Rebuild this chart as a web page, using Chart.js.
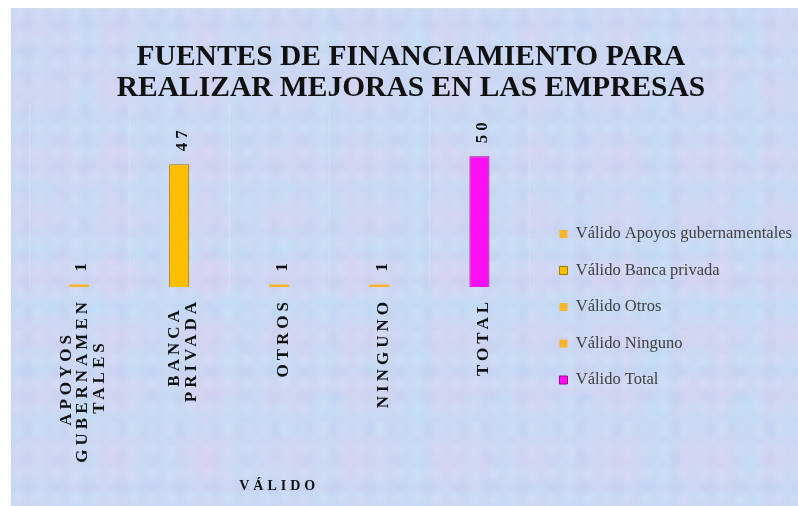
<!DOCTYPE html>
<html lang="es">
<head>
<meta charset="utf-8">
<title>Fuentes de financiamiento</title>
<script src="https://cdn.jsdelivr.net/npm/chart.js@4.4.1/dist/chart.umd.min.js"></script>
<style>
    html, body { margin: 0; padding: 0; background: #fff; }
    #frame {
        position: absolute;
        left: 11px;
        top: 8px;
        width: 787px;
        height: 498px;
        background-color: #c7d8f3;
        background-image:
            radial-gradient(ellipse at 30% 40%, rgba(232, 202, 236, 0.35), rgba(232, 202, 236, 0) 60%),
            radial-gradient(ellipse at 70% 60%, rgba(186, 228, 247, 0.35), rgba(186, 228, 247, 0) 55%),
            radial-gradient(ellipse at 50% 50%, rgba(176, 190, 236, 0.2), rgba(176, 190, 236, 0) 60%),
            radial-gradient(ellipse at 40% 30%, rgba(226, 234, 252, 0.3), rgba(226, 234, 252, 0) 50%),
            radial-gradient(ellipse at 60% 70%, rgba(230, 205, 238, 0.25), rgba(230, 205, 238, 0) 55%);
        background-size: 83px 61px, 47px 53px, 31px 29px, 19px 23px, 127px 97px;
    }
</style>
</head>
<body>
<div id="frame"><canvas id="chart"></canvas></div>
<script>
document.addEventListener('DOMContentLoaded', () => {
    // Data
    const categories = [['APOYOS', 'GUBERNAMEN', 'TALES'], ['BANCA', 'PRIVADA'], 'OTROS', 'NINGUNO', 'TOTAL'];
    const seriesNames = ['Válido Apoyos gubernamentales', 'Válido Banca privada', 'Válido Otros', 'Válido Ninguno', 'Válido Total'];
    const values = [1, 47, 1, 1, 50];

    const barColors = ['#F6B52A', '#FDBE00', '#F6B52A', '#F6B52A', '#FF10F0'];
    const edgeColors = ['#F6B52A', '#A07C00', '#F6B52A', '#F6B52A', '#A0009A'];
    const edgeWidths = [0, 1, 0, 0, 1];

    const spaced = '4px';
    const tickFont = 'bold 17px "Liberation Serif"';
    const linePitch = 16.5;
    const maxLines = 3;

    // Chart.js right-aligns rotated labels and starts multi-line labels at the tick,
    // so centre the lines of each label: pad short lines, use half-pitch rows.
    const measure = document.createElement('canvas').getContext('2d');
    measure.font = tickFont;
    measure.letterSpacing = spaced;
    const spaceW = measure.measureText(' ').width;

    function tickLines(label) {
        const lines = Array.isArray(label) ? label : [label];
        const widths = lines.map((l) => measure.measureText(l).width);
        const widest = Math.max(...widths);
        const out = [];
        for (let k = 0; k < maxLines - lines.length; k++) out.push('');
        lines.forEach((l, k) => {
            const pad = Math.round((widest - widths[k]) / 2 / spaceW);
            if (k > 0) out.push('');
            out.push(l + ' '.repeat(pad));
        });
        return out;
    }

    // one series per category, like the original sheet
    const datasets = seriesNames.map((name, i) => ({
        label: name,
        data: values.map((v, j) => (j === i ? v : null)),
        backgroundColor: barColors[i],
        borderColor: edgeColors[i],
        borderWidth: edgeWidths[i]
    }));

    // value labels + letter spacing for the category axis
    const labelPlugin = {
        id: 'valueLabels',
        beforeDraw(chart) {
            chart.ctx.letterSpacing = '0px';
        },
        afterDatasetsDraw(chart) {
            const ctx = chart.ctx;
            ctx.save();
            ctx.letterSpacing = spaced;
            ctx.font = tickFont;
            ctx.fillStyle = '#111';
            ctx.textAlign = 'left';
            ctx.textBaseline = 'middle';
            chart.data.datasets.forEach((ds, i) => {
                const meta = chart.getDatasetMeta(i);
                meta.data.forEach((bar, j) => {
                    if (ds.data[j] === null) return;
                    ctx.save();
                    ctx.translate(bar.x + 3, bar.y - 13);
                    ctx.rotate(-Math.PI / 2);
                    ctx.fillText(String(ds.data[j]), 0, 0);
                    ctx.restore();
                });
            });
            ctx.restore();
            // x grid/title and tick labels are drawn after this (z: 1)
            ctx.letterSpacing = spaced;
        },
        afterDraw(chart) {
            chart.ctx.letterSpacing = '0px';
        }
    };

    // empty spacer axis, only takes room
    const spacer = (width, position) => ({
        axis: 'y',
        position: position,
        display: true,
        afterFit: (scale) => { scale.width = width; },
        grid: { display: false },
        border: { display: false },
        ticks: { display: false }
    });

    const ctx = document.getElementById('chart').getContext('2d');

    new Chart(ctx, {
        type: 'bar',
        data: {
            labels: categories.map(tickLines),
            datasets: datasets
        },
        options: {
            responsive: true,
            maintainAspectRatio: false,
            animation: false,
            skipNull: true,
            categoryPercentage: 0.8,
            barPercentage: 0.25,
            layout: {
                padding: { left: 9, right: -4, top: 0, bottom: 0 }
            },
            scales: {
                x: {
                    afterFit: (scale) => { scale.height = 219; },
                    grid: {
                        z: 1,
                        color: 'rgba(222, 228, 240, 0.55)',
                        drawTicks: false
                    },
                    border: {
                        color: 'rgba(232, 226, 220, 0.6)'
                    },
                    ticks: {
                        z: 1,
                        autoSkip: false,
                        minRotation: 90,
                        maxRotation: 90,
                        padding: 11,
                        labelOffset: -linePitch + 4,
                        color: '#111',
                        font: { family: '"Liberation Serif"', size: 17, weight: 'bold', lineHeight: linePitch / 2 / 17 }
                    },
                    title: {
                        display: true,
                        text: 'VÁLIDO',
                        color: '#111',
                        padding: { top: 4, bottom: 11 },
                        font: { family: '"Liberation Serif"', size: 14, weight: 'bold' }
                    }
                },
                y: {
                    display: false,
                    beginAtZero: true,
                    min: 0,
                    max: 70
                },
                padLeft: spacer(9, 'left'),
                padRight: spacer(10, 'right')
            },
            plugins: {
                title: {
                    display: true,
                    text: ['FUENTES DE FINANCIAMIENTO PARA', 'REALIZAR MEJORAS EN LAS EMPRESAS'],
                    color: '#111',
                    padding: { top: 33.5, bottom: 0.5 },
                    font: { family: '"Liberation Serif"', size: 29.5, weight: 'bold', lineHeight: 31 / 29.5 }
                },
                legend: {
                    position: 'right',
                    maxWidth: 320,
                    title: {
                        display: true,
                        text: ' ',
                        padding: { top: 90, bottom: 0 },
                        font: { size: 10, lineHeight: 1 }
                    },
                    labels: {
                        boxWidth: 8,
                        boxHeight: 8,
                        padding: 20,
                        color: '#404040',
                        font: { family: '"Liberation Serif"', size: 16.5 }
                    }
                },
                tooltip: { enabled: false }
            }
        },
        plugins: [labelPlugin]
    });
});
</script>
</body>
</html>
